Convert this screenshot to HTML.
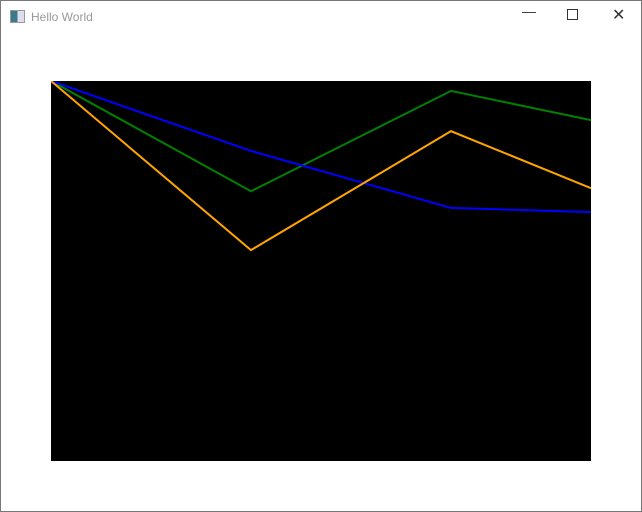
<!DOCTYPE html>
<html><head><meta charset="utf-8"><style>
body{margin:0;width:642px;height:512px;overflow:hidden;background:#fff;font-family:"Liberation Sans",sans-serif}
#win{position:absolute;left:0;top:0;width:640px;height:510px;border:1px solid #777;background:#fff}
#title{position:absolute;left:30px;top:9px;font-size:12px;color:#999}
#icon{position:absolute;left:9px;top:9px;width:13px;height:11px;border:1px solid #999;background:linear-gradient(90deg,#3a7a8a 0 50%,#dde 50%)}
.ctl{position:absolute;top:6px;font-size:14px;color:#333}
</style></head><body>
<div id="win">
<div id="icon"></div>
<div id="title">Hello World</div>
<div class="ctl" style="left:521px;top:2px">—</div>
<div class="ctl" style="left:566px;top:8px;width:9px;height:9px;border:1px solid #333"></div>
<div class="ctl" style="left:611px;top:4px;font-size:16px">✕</div>
<svg id="chart" width="642" height="512" style="position:absolute;left:-1px;top:-1px">
<defs><clipPath id="cp"><rect x="51" y="81" width="540" height="380"/></clipPath></defs>
<rect x="51" y="81" width="540" height="380" fill="#000"/>
<g id="lines" clip-path="url(#cp)"></g>
</svg>
</div>
<script>
const xs=[0,1,2,2.7];
const greenVals=[100,71,97.4,89.7];
const blueVals=[100,81.6,66.6,65.5];
const orangeVals=[100,55.5,86.8,71.8];
const X=v=>51+v*(540/2.7);
const Y=v=>461-v*3.8;
const g=document.getElementById('lines');
[[greenVals,'#008000','green-series'],[blueVals,'#0000ff','blue-series'],[orangeVals,'#ffa500','orange-series']].forEach(([vals,c,n])=>{
const p=document.createElementNS('http://www.w3.org/2000/svg','polyline');
p.setAttribute('points',vals.map((v,i)=>X(xs[i])+','+Y(v)).join(' '));
p.setAttribute('fill','none');p.setAttribute('stroke',c);p.setAttribute('stroke-width','2');


g.appendChild(p);});
</script>
</body></html>
